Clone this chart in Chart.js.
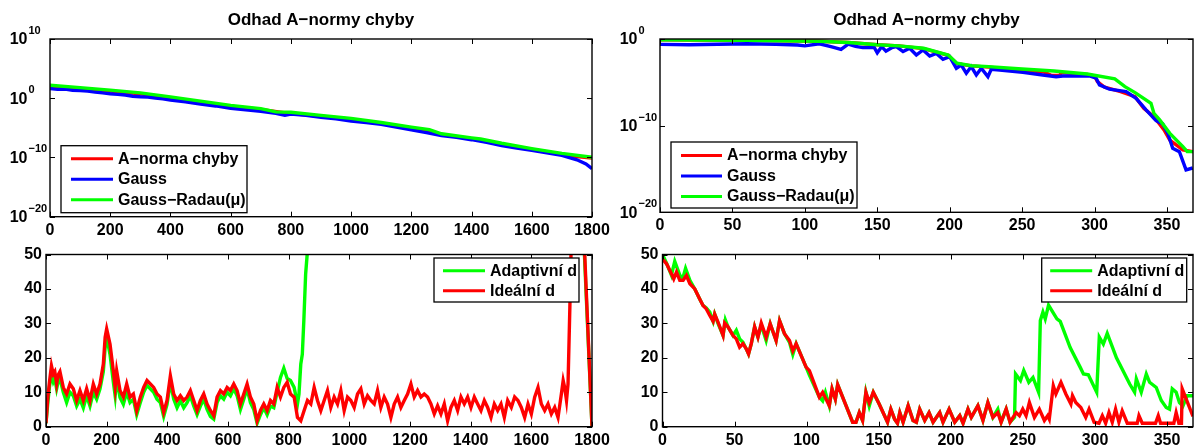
<!DOCTYPE html>
<html>
<head>
<meta charset="utf-8">
<title>Odhad A-normy chyby</title>
<script src="https://cdn.jsdelivr.net/npm/chart.js@4.4.0/dist/chart.umd.min.js"></script>
<style>
  body { margin: 0; background: #fff; width: 1194px; height: 448px; overflow: hidden; position: relative; }
  canvas { position: absolute; display: block; }
</style>
</head>
<body>
<canvas id="c-tl" width="620" height="240" style="left:0;top:0"></canvas>
<canvas id="c-tr" width="594" height="240" style="left:600px;top:0"></canvas>
<canvas id="c-bl" width="620" height="208" style="left:0;top:240px"></canvas>
<canvas id="c-br" width="594" height="208" style="left:600px;top:240px"></canvas>
<script>
'use strict';

// ── Data ─────────────────────────────────────────────────────────────────────
const TITLE = 'Odhad A\u2212normy chyby';
const LBL_ERR = 'A\u2212norma chyby';
const LBL_GAUSS = 'Gauss';
const LBL_RADAU = 'Gauss\u2212Radau(\u03bc)';
const LBL_ADAPT = 'Adaptivn\u00ed d';
const LBL_IDEAL = 'Ide\u00e1ln\u00ed d';

// ticks
const xTicksLong  = [0, 200, 400, 600, 800, 1000, 1200, 1400, 1600, 1800];
const xTicksShort = [0, 50, 100, 150, 200, 250, 300, 350];
const yTicksLogL  = [1e-20, 1e-10, 1e0, 1e10];
const yTicksLogR  = [1e-20, 1e-10, 1e0];
const yTicksLin   = [0, 10, 20, 30, 40, 50];

// top-left: estimate of the A-norm of the error, long run
const tlErrX = [0, 100, 200, 300, 400, 500, 600, 700, 800, 900, 1000, 1100, 1200, 1260, 1300, 1400, 1500, 1600, 1700, 1750, 1800];
const tlErrY = [1.1e2, 4.5e1, 1.6e1, 5.6, 1.2, 2.2e-1, 4.5e-2, 1.3e-2, 2.5e-3, 8.9e-4, 2.8e-4, 5.6e-5, 8.9e-6, 3.5e-6, 7.1e-7, 1.4e-7, 1.8e-8, 2.2e-9, 3.5e-10, 1.4e-10, 7.9e-11];
const tlGaussX = [0, 25, 50, 75, 100, 125, 150, 175, 200, 225, 250, 275, 300, 325, 350, 375, 400, 450, 500, 550, 600, 650, 700, 750, 780, 800, 850, 900, 950, 1000, 1050, 1100, 1150, 1200, 1250, 1300, 1350, 1400, 1450, 1500, 1550, 1600, 1650, 1700, 1750, 1780, 1800];
const tlGaussY = [4.5e1, 3.2e1, 3.5e1, 2.2e1, 2.0e1, 1.6e1, 1.1e1, 7.9, 5.6, 4.5, 3.5, 2.2, 1.8, 1.6, 1.1, 7.9e-1, 5.0e-1, 2.5e-1, 1.0e-1, 5.0e-2, 2.0e-2, 1.1e-2, 6.3e-3, 2.8e-3, 1.3e-3, 2.2e-3, 1.3e-3, 6.3e-4, 3.2e-4, 1.4e-4, 7.9e-5, 4.0e-5, 1.4e-5, 4.5e-6, 1.6e-6, 5.0e-7, 2.5e-7, 1.0e-7, 3.5e-8, 1.0e-8, 4.0e-9, 1.6e-9, 6.3e-10, 2.2e-10, 4.0e-11, 7.9e-12, 1.3e-12];
const tlRadauX = [0, 100, 200, 300, 400, 500, 600, 700, 750, 800, 900, 1000, 1100, 1200, 1260, 1300, 1400, 1430, 1500, 1600, 1700, 1800];
const tlRadauY = [1.6e2, 6.3e1, 2.3e1, 7.9, 1.7, 3.2e-1, 6.3e-2, 1.8e-2, 5.0e-3, 4.3e-3, 1.3e-3, 4.0e-4, 7.9e-5, 1.3e-5, 5.0e-6, 1.0e-6, 2.0e-7, 1.3e-7, 2.5e-8, 3.2e-9, 5.0e-10, 1.1e-10];

// top-right: short run
const trErrX = [0, 60, 110, 130, 150, 165, 182, 199, 205, 215, 227, 250, 265, 270, 276, 277, 295, 300, 302, 307, 318, 328, 334, 341, 348, 352, 361, 368];
const trErrY = [7.9e-1, 7.1e-1, 5.6e-1, 4.0e-1, 2.2e-1, 1.6e-1, 7.9e-2, 1.3e-2, 1.4e-3, 7.9e-4, 5.6e-4, 2.5e-4, 1.6e-4, 6.3e-5, 6.3e-5, 1.3e-4, 7.9e-5, 5.4e-5, 1.2e-5, 2.7e-6, 8.5e-7, 2.2e-7, 1.0e-8, 1.1e-9, 3.2e-11, 2.2e-12, 1.6e-13, 1.0e-13];
const trGaussX = [0, 20, 40, 60, 80, 95, 100, 110, 118, 125, 130, 135, 140, 148, 150, 153, 156, 160, 163.2, 167.8, 172.4, 177, 181.6, 186.2, 190.8, 195.4, 200, 204.6, 208, 211.5, 214.9, 218.4, 221.8, 226.4, 228.7, 234.5, 250.5, 264.3, 273.5, 278.1, 296.5, 301.1, 303.4, 310.3, 321.8, 328.7, 335.6, 342.5, 347.1, 350.6, 354, 358.6, 363.2, 367.8];
const trGaussY = [2.4e-1, 2.2e-1, 2.5e-1, 2.8e-1, 2.5e-1, 2.0e-1, 1.6e-1, 2.8e-1, 1.3e-1, 6.3e-2, 2.5e-1, 1.4e-1, 1.0e-1, 1.0e-1, 2.5e-2, 1.3e-1, 4.0e-2, 1.0e-1, 1.3e-1, 3.5e-2, 8.5e-2, 1.4e-2, 5.4e-2, 1.1e-2, 2.2e-2, 4.6e-3, 9.1e-3, 4.2e-4, 1.0e-3, 1.1e-4, 6.5e-4, 7.1e-5, 4.2e-4, 4.5e-5, 3.2e-4, 2.6e-4, 1.4e-4, 7.1e-5, 4.5e-5, 5.4e-5, 5.4e-5, 3.0e-5, 5.0e-6, 1.6e-6, 8.5e-7, 1.4e-7, 6.5e-9, 3.8e-10, 1.6e-10, 1.3e-11, 2.5e-13, 1.0e-13, 7.9e-16, 1.3e-15];
const trRadauX = [0, 60, 110, 130, 150, 165, 182, 199, 205, 215, 227, 250, 272, 295, 314, 321, 328, 339, 341, 345, 352, 361, 364, 368];
const trRadauY = [7.9e-1, 7.1e-1, 5.6e-1, 4.0e-1, 2.2e-1, 1.6e-1, 8.5e-2, 1.4e-2, 1.6e-3, 8.3e-4, 6.5e-4, 3.5e-4, 2.0e-4, 9.1e-5, 2.5e-5, 3.2e-6, 6.5e-7, 3.8e-8, 2.7e-9, 4.6e-10, 1.3e-11, 3.8e-13, 1.0e-13, 1.0e-13];

// bottom-left: delay d, long run
const blIdealX = [0, 6, 12, 18, 24, 29, 35, 40, 46, 57,
  68, 79, 90, 101, 112, 123, 134, 145, 156, 167,
  178, 189, 195, 200, 211, 222, 228, 233, 244, 255,
  266, 277, 288, 299, 311, 322, 333, 344, 355, 366,
  377, 388, 399, 410, 421, 432, 443, 454, 465, 476,
  487, 498, 509, 520, 531, 542, 553, 564, 575, 586,
  597, 608, 619, 630, 641, 652, 663, 674, 685, 696,
  707, 718, 729, 740, 751, 762, 773, 784, 795, 806,
  818, 829, 840, 851, 862, 873, 884, 895, 906, 917,
  928, 939, 950, 961, 972, 983, 994, 1005, 1016, 1027,
  1038, 1049, 1060, 1071, 1082, 1093, 1104, 1115, 1126, 1137,
  1148, 1159, 1170, 1181, 1192, 1203, 1214, 1225, 1236, 1247,
  1258, 1269, 1280, 1291, 1302, 1313, 1324, 1335, 1346, 1357,
  1368, 1379, 1390, 1401, 1412, 1423, 1434, 1445, 1456, 1467,
  1478, 1489, 1500, 1511, 1522, 1534, 1545, 1556, 1567, 1578,
  1589, 1600, 1611, 1622, 1633, 1644, 1655, 1666, 1677, 1688,
  1699, 1705, 1710, 1716, 1721, 1727, 1732, 1741, 1750, 1775,
  1800];
const blIdealY = [1, 8.6, 13.4, 17.7, 15.3, 16, 12.4, 15, 16, 11.4,
  9.5, 12.4, 11, 7.6, 10.5, 7.6, 11, 7.6, 12.4, 9.5,
  12.4, 18.2, 26, 28.4, 24, 16.2, 11.4, 16.2, 10.5, 8.6,
  12.4, 8.6, 9.5, 4.7, 8.6, 11.4, 13.4, 12.4, 11.4, 9.5,
  8.6, 4.2, 7.6, 14.8, 9.5, 7.6, 9, 7.6, 8.6, 10.5,
  7.6, 4.7, 7.6, 9.5, 6.6, 4.7, 3.2, 8.6, 10.5, 9.5,
  11.4, 10.5, 12.4, 10.5, 6.6, 9.5, 12.4, 8.6, 6.6, 1.7,
  4.7, 6.6, 4.7, 7.6, 6.6, 11.4, 8.6, 11.4, 12.9, 9.5,
  8.6, 2.7, 1.7, 4.7, 7.6, 6.6, 11.4, 7.6, 4.7, 7.6,
  10.5, 5.6, 8.6, 6.6, 10.5, 4.7, 8.6, 7.6, 5.6, 9.5,
  11, 6.6, 9, 7.6, 6.6, 10.5, 5.6, 8.6, 6.6, 2.7,
  6.6, 8.6, 5.6, 7.6, 9.5, 12.4, 8.6, 10.5, 8.6, 9.5,
  8.6, 6.6, 3.7, 6.1, 3.7, 6.6, 1.7, 5.6, 7.6, 4.7,
  8.6, 6.6, 8.6, 5.6, 8.6, 6.6, 4.7, 7.6, 5.6, 2.7,
  6.6, 4.7, 6.6, 2.7, 7.6, 5.6, 8.6, 7.6, 5.6, 2.7,
  6.6, 3.7, 8.6, 11.4, 6.6, 4.7, 6.6, 3.7, 5.6, 2.7,
  9.5, 13.4, 11.4, 7.6, 12.4, 34.7, 55, 60, 55, 52,
  0];
const blAdaptX = [0, 6, 12, 18, 24, 29, 35, 40, 46, 57,
  68, 79, 90, 101, 112, 123, 134, 145, 156, 167,
  178, 189, 195, 200, 211, 222, 228, 233, 244, 255,
  266, 277, 288, 299, 311, 322, 333, 344, 355, 366,
  377, 388, 399, 410, 421, 432, 443, 454, 465, 476,
  487, 498, 509, 520, 531, 542, 553, 564, 575, 586,
  597, 608, 619, 630, 641, 652, 663, 674, 685, 696,
  707, 718, 729, 740, 751, 762, 773, 784, 795, 806,
  818, 829, 834, 840, 845, 850, 856, 861, 870, 1770, 1800];
const blAdaptY = [1, 7, 12, 15, 13, 14, 11, 13, 14, 10,
  7, 10, 9, 6, 8, 5.5, 9, 6, 10, 8,
  11, 16, 23, 26, 21, 13, 9, 14, 8.5, 6.5,
  10, 7, 8, 3.5, 7, 10, 12, 11, 10, 8,
  7, 3, 6.5, 13, 8, 5.5, 7.5, 5.5, 7, 9,
  6, 3.5, 6, 8, 5, 3, 2.2, 7, 9, 8,
  10, 9, 11, 9, 5, 8, 11, 7, 5, 1,
  3.5, 5.5, 3.5, 6, 5.5, 10, 14.3, 17, 14, 13.4,
  11.4, 6.6, 9.5, 18.2, 21, 30.8, 44.4, 50, 60, 60, 0];

// bottom-right: delay d, short run
const brIdealX = [0, 2.8, 6.2, 7.8, 9.7, 12, 14.3, 16.6, 19, 22.4,
  25.8, 28.1, 30.4, 32.8, 35.1, 36.2, 38.5, 42, 43.1, 45.4,
  48.9, 51.2, 53.5, 55.8, 58.1, 59.7, 61.6, 63.9, 66.2, 68.5,
  71.9, 74.7, 78.8, 81.2, 84.6, 88.1, 90.4, 92.7, 99.6, 101.9,
  108.8, 111.1, 115.7, 117.6, 119.9, 121.5, 131.9, 134.2, 136.5, 138.8,
  141.1, 143.4, 146.2, 150.3, 156.1, 158.4, 161, 163, 164.6, 166.9,
  170.4, 173.8, 176.1, 178.4, 181.9, 184.9, 187.7, 192.3, 194.6, 198.8,
  202.7, 206.2, 208.5, 211.9, 214.2, 218.8, 222.3, 225.7, 229.2, 232.6,
  234.9, 238.4, 241.1, 245.3, 247.6, 249.9, 252.2, 254.5, 258, 261.4,
  264.9, 267.2, 268.3, 271.1, 272.9, 276.4, 279.8, 283.3, 284.4, 286.7,
  290.2, 293.6, 295.9, 299.4, 302.8, 305.1, 307.4, 309.7, 312, 314.3,
  316.6, 318.9, 322.4, 329.3, 330.5, 332.8, 342, 343.9, 345.5, 354.7,
  356.3, 358.2, 360, 360.5, 368];
const brIdealY = [48.7, 47.3, 44.4, 42.9, 44.9, 42.5, 42.5, 43.9, 41.5, 40,
  37.1, 35.2, 34.2, 32.3, 30.6, 32.7, 30.4, 26.5, 30.1, 29,
  26.5, 25.5, 23.1, 24.1, 22.6, 21.1, 24.1, 29, 26, 30.1,
  26, 29.9, 25, 30.8, 27, 25, 22, 24.1, 17.3, 16.3,
  8.6, 10, 6.1, 11, 8, 12.2, 1.3, 1.3, 4.1, 1.8,
  10, 7, 10, 6.6, 1.3, 5.1, 2.2, 1, 4.1, 1.3,
  6.1, 1.8, 1.3, 5.1, 1.8, 4.1, 1.3, 4.1, 1.3, 5.1,
  1.3, 3.2, 1, 5.1, 2.7, 6.1, 1.8, 7, 2.7, 4.1,
  1.3, 5.1, 1.3, 4.1, 3.2, 5.1, 3.2, 7, 2.7, 5.1,
  1.8, 3.2, 2.2, 11.9, 9.5, 12.9, 9.5, 6.6, 9, 7,
  5.6, 2.7, 5.1, 1.3, 1, 3.2, 1, 4.1, 1.3, 5.1,
  1.3, 4.6, 1, 1, 3.2, 1, 1, 3.2, 1, 1,
  4.1, 1, 1, 11, 3];
const brAdaptX = [0, 2.8, 6.2, 8.5, 12, 14, 16, 19, 22.4, 25.8,
  28.1, 30.4, 32.8, 35.1, 36.2, 38.5, 42, 43.6, 45.4, 48.9,
  51.2, 53.5, 55.8, 58.1, 59.7, 61.6, 63.9, 66.2, 68.5, 71.9,
  74.7, 78.8, 81.2, 84.6, 88.1, 90.4, 92.7, 99.6, 101.9, 108.8,
  111.1, 113, 115.7, 117.6, 119.9, 121.5, 131.9, 134.2, 136.5, 138.8,
  141.1, 143.4, 146.2, 150.3, 156.1, 158.4, 161, 163, 164.6, 166.9,
  170.4, 173.8, 176.1, 178.4, 181.9, 184.9, 187.7, 192.3, 194.6, 198.8,
  202.7, 206.2, 208.5, 211.9, 214.2, 218.8, 222.3, 225.7, 229.2, 232.6,
  234.9, 238.4, 241.1, 244.2, 244.9, 248.3, 250.6, 254.1, 257, 260.9,
  262.1, 263.9, 265.5, 267.8, 270.1, 273.6, 275.9, 282.8, 289.7, 292,
  295.4, 301.2, 303, 305.8, 308.5, 314.9, 324.1, 327.5, 328.7, 332.1,
  335.6, 337.9, 342.5, 346, 349.4, 351.7, 353.6, 356.3, 358.6, 361,
  364, 368];
const brAdaptY = [50, 47.5, 44, 48, 44, 43, 46, 42.5, 40, 37.1,
  35.2, 34.5, 33.3, 30.6, 32.7, 30, 26.5, 31, 29, 26.5,
  28, 25.5, 24.5, 22.6, 21.1, 24.1, 29, 26, 29.5, 25,
  29.9, 25, 30.8, 27, 24.5, 21, 24.1, 17.3, 15, 8.6,
  7.5, 10, 6.1, 11, 8, 12.2, 1.3, 1.3, 4.1, 1.8,
  10, 6, 10, 6.6, 1.3, 5.1, 2.2, 1, 4.1, 1.3,
  6.1, 1.8, 1.3, 5.1, 1.8, 4.1, 1.3, 4.1, 1.3, 5.1,
  1.3, 3.2, 1, 5.1, 2.7, 6.1, 1.8, 7, 2.7, 5.1,
  1.3, 5.1, 1.3, 2.7, 15.3, 13.4, 16.3, 12.9, 14.3, 10,
  30.8, 33.3, 31.3, 35.3, 33.7, 31.3, 30.6, 23, 17.3, 15.3,
  15.1, 10, 26, 24, 27.1, 20, 12.4, 10, 13.9, 10,
  15.3, 12.9, 11.4, 7.6, 5.6, 5.1, 11, 10, 7, 6,
  9, 9];

// ── Style ────────────────────────────────────────────────────────────────────
const FONT = '"Liberation Sans", Arial, Helvetica, sans-serif';
const RED = '#ff0000';
const BLUE = '#0000ff';
const GREEN = '#00ff00';
const LINE_W = 3.4;

function pts(xs, ys) {
  return xs.map(function (x, i) { return { x: x, y: ys[i] }; });
}

function series(label, color, xs, ys, order) {
  return {
    label: label, data: pts(xs, ys), borderColor: color, backgroundColor: color,
    borderWidth: LINE_W, pointRadius: 0, tension: 0, fill: false, order: order,
  };
}

// ── Plugin: MATLAB-like box, inside ticks, legend and 10^k labels ───────────
const matlabAxes = {
  id: 'matlabAxes',
  afterDatasetsDraw(chart, args, opts) {
    const ctx = chart.ctx, a = chart.chartArea, sx = chart.scales.x, sy = chart.scales.y;
    const tl = opts.tickLength;
    ctx.save();
    ctx.strokeStyle = '#000';
    ctx.lineWidth = 1;
    ctx.beginPath();
    sx.ticks.forEach(function (t) {
      const x = Math.round(sx.getPixelForValue(t.value)) + 0.5;
      ctx.moveTo(x, a.bottom); ctx.lineTo(x, a.bottom - tl);
      ctx.moveTo(x, a.top); ctx.lineTo(x, a.top + tl);
    });
    sy.ticks.forEach(function (t) {
      const y = Math.round(sy.getPixelForValue(t.value)) + 0.5;
      ctx.moveTo(a.left, y); ctx.lineTo(a.left + tl, y);
      ctx.moveTo(a.right, y); ctx.lineTo(a.right - tl, y);
    });
    ctx.stroke();
    ctx.lineWidth = opts.boxWidth;
    ctx.strokeRect(a.left, a.top, a.right - a.left, a.bottom - a.top);
    ctx.restore();
  },
  afterDraw(chart, args, opts) {
    if (opts.logLabels) drawLogLabels(chart, opts.logLabels);
    if (opts.legend) drawLegend(chart, opts.legend);
  },
};

function drawLogLabels(chart, o) {
  const ctx = chart.ctx, a = chart.chartArea, sy = chart.scales.y;
  const xr = a.left - o.gap;
  ctx.save();
  ctx.fillStyle = '#000';
  ctx.textBaseline = 'middle';
  sy.ticks.forEach(function (t) {
    const y = sy.getPixelForValue(t.value);
    const e = Math.round(Math.log10(t.value));
    ctx.font = 'bold 16px ' + FONT;
    ctx.textAlign = 'right';
    ctx.fillText('10', xr, y + 1);
    ctx.font = 'bold 11px ' + FONT;
    ctx.textAlign = 'left';
    ctx.fillText(String(e).replace('-', '\u2212'), xr + 1, y - 8);
  });
  ctx.restore();
}

function drawLegend(chart, lg) {
  const ctx = chart.ctx, a = chart.chartArea;
  const left = lg.left !== undefined ? a.left + lg.left : a.right - lg.right - lg.width;
  const top = lg.top !== undefined ? a.top + lg.top : a.bottom - lg.bottom - lg.height;
  ctx.save();
  ctx.fillStyle = '#fff';
  ctx.fillRect(left, top, lg.width, lg.height);
  ctx.strokeStyle = '#000';
  ctx.lineWidth = 1.3;
  ctx.strokeRect(left, top, lg.width, lg.height);
  ctx.font = 'bold 16px ' + FONT;
  ctx.textBaseline = 'middle';
  ctx.textAlign = 'left';
  chart.data.datasets.forEach(function (ds, i) {
    const y = top + lg.firstRow + i * lg.rowGap;
    ctx.strokeStyle = ds.borderColor;
    ctx.lineWidth = 3;
    ctx.beginPath();
    ctx.moveTo(left + lg.lineStart, y);
    ctx.lineTo(left + lg.lineStart + lg.lineLen, y);
    ctx.stroke();
    ctx.fillStyle = '#000';
    ctx.fillText(ds.label, left + lg.lineStart + lg.lineLen + 5, y + 0.5);
  });
  ctx.restore();
}

// ── Chart factory ────────────────────────────────────────────────────────────
function tickFont() {
  return { family: FONT, size: 16, weight: 'bold' };
}

function fixY(width) {
  return function (s) {
    s.width = width;
    s.paddingTop = 0;
    s.paddingBottom = 0;
  };
}

function fixX(height) {
  return function (s) {
    s.height = height;
    s.paddingLeft = 0;
    s.paddingRight = 0;
  };
}

function makeChart(id, cfg) {
  const yScale = cfg.log ? {
    type: 'logarithmic', min: cfg.yMin, max: cfg.yMax,
    afterBuildTicks: function (s) { s.ticks = cfg.yTicks.map(function (v) { return { value: v }; }); },
    afterFit: fixY(cfg.yWidth),
    grid: { display: false, drawTicks: false }, border: { display: false },
    ticks: { display: false },
  } : {
    type: 'linear', min: cfg.yMin, max: cfg.yMax,
    afterBuildTicks: function (s) { s.ticks = cfg.yTicks.map(function (v) { return { value: v }; }); },
    afterFit: fixY(cfg.yWidth),
    grid: { display: false, drawTicks: false }, border: { display: false },
    ticks: { font: tickFont(), color: '#000', padding: 4, callback: function (v) { return String(v); } },
  };

  return new Chart(document.getElementById(id), {
    type: 'line',
    data: { datasets: cfg.datasets },
    options: {
      responsive: false,
      animation: false,
      events: [],
      layout: { padding: cfg.padding },
      plugins: {
        legend: { display: false },
        tooltip: { enabled: false },
        title: cfg.title ? {
          display: true, text: cfg.title, fullSize: false, color: '#000',
          font: { family: FONT, size: 17, weight: 'bold', lineHeight: 1.2 },
          padding: { top: 10, bottom: 8.6 },
        } : { display: false },
        matlabAxes: {
          tickLength: 5, boxWidth: 1.4,
          legend: cfg.legend,
          logLabels: cfg.log ? { gap: 22.5 } : null,
        },
      },
      scales: {
        x: {
          type: 'linear', min: 0, max: cfg.xMax,
          afterBuildTicks: function (s) { s.ticks = cfg.xTicks.map(function (v) { return { value: v }; }); },
          afterFit: fixX(cfg.xHeight),
          grid: { display: false, drawTicks: false }, border: { display: false },
          ticks: {
            font: tickFont(), color: '#000', padding: 4, autoSkip: false, maxRotation: 0,
            callback: function (v) { return String(v); },
          },
        },
        y: yScale,
      },
    },
    plugins: [matlabAxes],
  });
}

// ── Build the four panels ────────────────────────────────────────────────────
makeChart('c-tl', {
  title: TITLE, log: true, yMin: 1e-20, yMax: 1e10, yTicks: yTicksLogL,
  xMax: 1800, xTicks: xTicksLong, yWidth: 50, xHeight: 23.3,
  padding: { top: 0, right: 28, bottom: 0, left: 0 },
  legend: { left: 11, bottom: 4, width: 186, height: 67, firstRow: 13, rowGap: 20.5, lineStart: 10, lineLen: 42 },
  datasets: [
    series(LBL_ERR, RED, tlErrX, tlErrY, 2),
    series(LBL_GAUSS, BLUE, tlGaussX, tlGaussY, 1),
    series(LBL_RADAU, GREEN, tlRadauX, tlRadauY, 0),
  ],
});

makeChart('c-tr', {
  title: TITLE, log: true, yMin: 1e-20, yMax: 1e0, yTicks: yTicksLogR,
  xMax: 368, xTicks: xTicksShort, yWidth: 60, xHeight: 27.7,
  padding: { top: 0, right: 1, bottom: 0, left: 0 },
  legend: { left: 11, bottom: 4.3, width: 186, height: 66, firstRow: 13.5, rowGap: 20.5, lineStart: 10, lineLen: 41 },
  datasets: [
    series(LBL_ERR, RED, trErrX, trErrY, 2),
    series(LBL_GAUSS, BLUE, trGaussX, trGaussY, 1),
    series(LBL_RADAU, GREEN, trRadauX, trRadauY, 0),
  ],
});

makeChart('c-bl', {
  title: null, log: false, yMin: 0, yMax: 50, yTicks: yTicksLin,
  xMax: 1800, xTicks: xTicksLong, yWidth: 46, xHeight: 21.3,
  padding: { top: 14.5, right: 28, bottom: 0, left: 0 },
  legend: { right: 13, top: 3.5, width: 145, height: 44, firstRow: 12.7, rowGap: 20, lineStart: 9, lineLen: 42 },
  datasets: [
    series(LBL_ADAPT, GREEN, blAdaptX, blAdaptY, 1),
    series(LBL_IDEAL, RED, blIdealX, blIdealY, 0),
  ],
});

makeChart('c-br', {
  title: null, log: false, yMin: 0, yMax: 50, yTicks: yTicksLin,
  xMax: 368, xTicks: xTicksShort, yWidth: 62.5, xHeight: 21.3,
  padding: { top: 14.5, right: 1, bottom: 0, left: 0 },
  legend: { right: 6.3, top: 3.5, width: 145, height: 44, firstRow: 12.7, rowGap: 20, lineStart: 8.5, lineLen: 42 },
  datasets: [
    series(LBL_ADAPT, GREEN, brAdaptX, brAdaptY, 1),
    series(LBL_IDEAL, RED, brIdealX, brIdealY, 0),
  ],
});
</script>
</body>
</html>
